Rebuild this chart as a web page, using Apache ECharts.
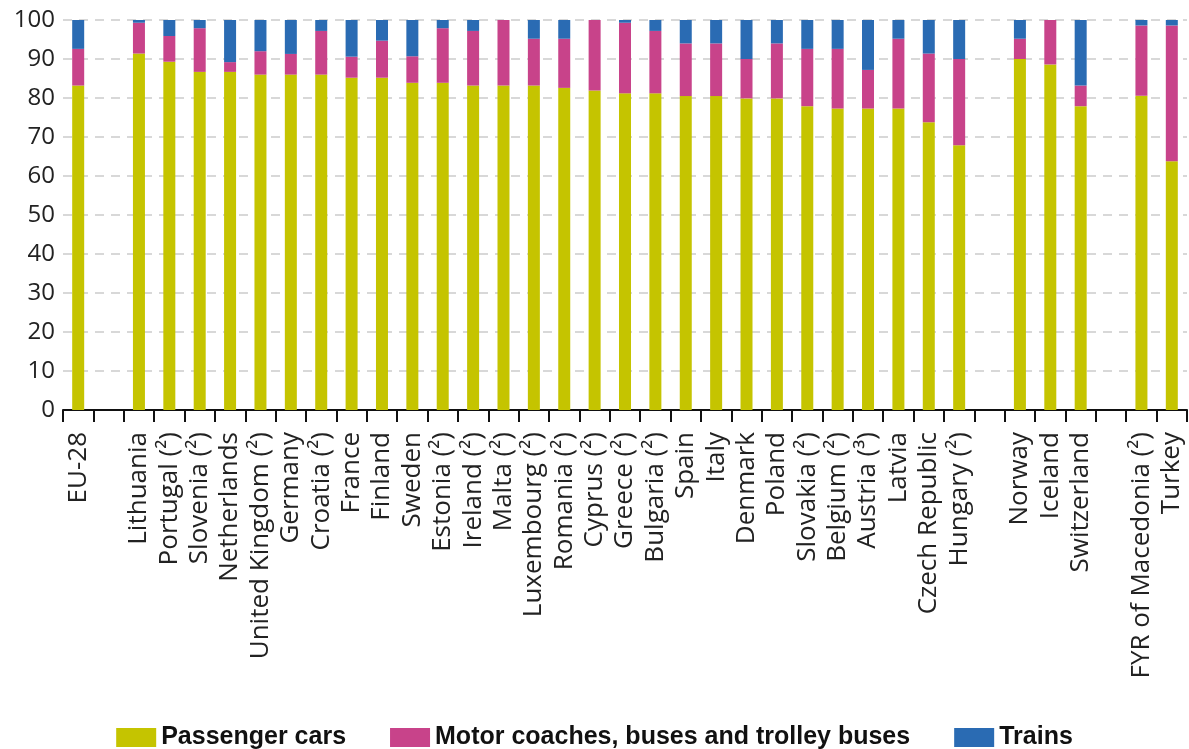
<!DOCTYPE html>
<html>
<head>
<meta charset="utf-8">
<script src="https://cdn.jsdelivr.net/npm/echarts@6/dist/echarts.min.js"></script>
<style>
    html, body { margin: 0; padding: 0; background: #fff; }
    #chart { width: 1189px; height: 749px; }
</style>
</head>
<body>
<div id="chart"></div>
<script>
    // '' entries are the empty slots between groups
    var countries = ['EU-28', '', 'Lithuania', 'Portugal (²)', 'Slovenia (²)', 'Netherlands', 'United Kingdom (²)',
        'Germany', 'Croatia (²)', 'France', 'Finland', 'Sweden', 'Estonia (²)', 'Ireland (²)', 'Malta (²)',
        'Luxembourg (²)', 'Romania (²)', 'Cyprus (²)', 'Greece (²)', 'Bulgaria (²)', 'Spain', 'Italy', 'Denmark',
        'Poland', 'Slovakia (²)', 'Belgium (²)', 'Austria (³)', 'Latvia', 'Czech Republic', 'Hungary (²)', '',
        'Norway', 'Iceland', 'Switzerland', '', 'FYR of Macedonia (²)', 'Turkey'];

    var cars = [83.2, '-', 91.4, 89.3, 86.7, 86.7, 86.0, 86.0, 86.0, 85.2, 85.2, 83.9, 83.9, 83.2, 83.2,
        83.2, 82.6, 81.9, 81.2, 81.2, 80.5, 80.5, 79.9, 79.9, 77.9, 77.3, 77.3, 77.3, 73.8, 67.9, '-',
        90.0, 88.6, 77.9, '-', 80.6, 63.8];
    var buses = [9.4, '-', 7.9, 6.6, 11.2, 2.5, 6.0, 5.3, 11.2, 5.4, 9.5, 6.8, 14.0, 14.0, 16.8,
        12.0, 12.6, 18.1, 18.1, 16.0, 13.5, 13.5, 10.1, 14.1, 14.7, 15.3, 9.9, 17.9, 17.6, 22.1, '-',
        5.2, 11.4, 5.3, '-', 18.0, 34.8];
    var trains = [7.4, '-', 0.7, 4.1, 2.1, 10.8, 8.0, 8.7, 2.8, 9.4, 5.3, 9.3, 2.1, 2.8, 0,
        4.8, 4.8, 0, 0.7, 2.8, 6.0, 6.0, 10.0, 6.0, 7.4, 7.4, 12.8, 4.8, 8.6, 10.0, '-',
        4.8, 0, 16.8, '-', 1.4, 1.4];

    var seriesNames = ['Passenger cars', 'Motor coaches, buses and trolley buses', 'Trains'];
    var seriesColors = ['#c5c400', '#c8438a', '#2a6bb3'];

    var makeSeries = function (i, data) {
        return {
            name: seriesNames[i],
            type: 'bar',
            stack: 'total',
            barWidth: 12,
            itemStyle: { color: seriesColors[i] },
            data: data
        };
    };

    var option = {
        animation: false,
        grid: { left: 63, right: 2, top: 20, bottom: 339, containLabel: false },
        legend: {
            top: 720,
            left: 'center',
            itemWidth: 40,
            itemHeight: 19,
            itemGap: 44,
            icon: 'rect',
            textStyle: {
                fontFamily: 'Liberation Sans',
                fontWeight: 'bold',
                fontSize: 25,
                color: '#111'
            },
            data: seriesNames
        },
        xAxis: {
            type: 'category',
            data: countries,
            axisLine: { lineStyle: { color: '#111', width: 2 } },
            axisTick: { show: true, length: 12, lineStyle: { color: '#111', width: 2 } },
            axisLabel: {
                interval: 0,
                rotate: 90,
                margin: 22,
                fontFamily: 'Open Sans',
                fontSize: 26,
                color: '#222'
            }
        },
        yAxis: {
            type: 'value',
            min: 0,
            max: 100,
            interval: 10,
            axisLine: { show: false },
            axisTick: { show: false },
            axisLabel: {
                margin: 8,
                fontFamily: 'Open Sans',
                fontSize: 24,
                color: '#222'
            },
            splitLine: { lineStyle: { color: '#cccccc', width: 1.5, type: [9, 7] } }
        },
        series: [makeSeries(0, cars), makeSeries(1, buses), makeSeries(2, trains)]
    };

    var myChart = echarts.init(document.getElementById('chart'));
    myChart.setOption(option);
</script>
</body>
</html>
